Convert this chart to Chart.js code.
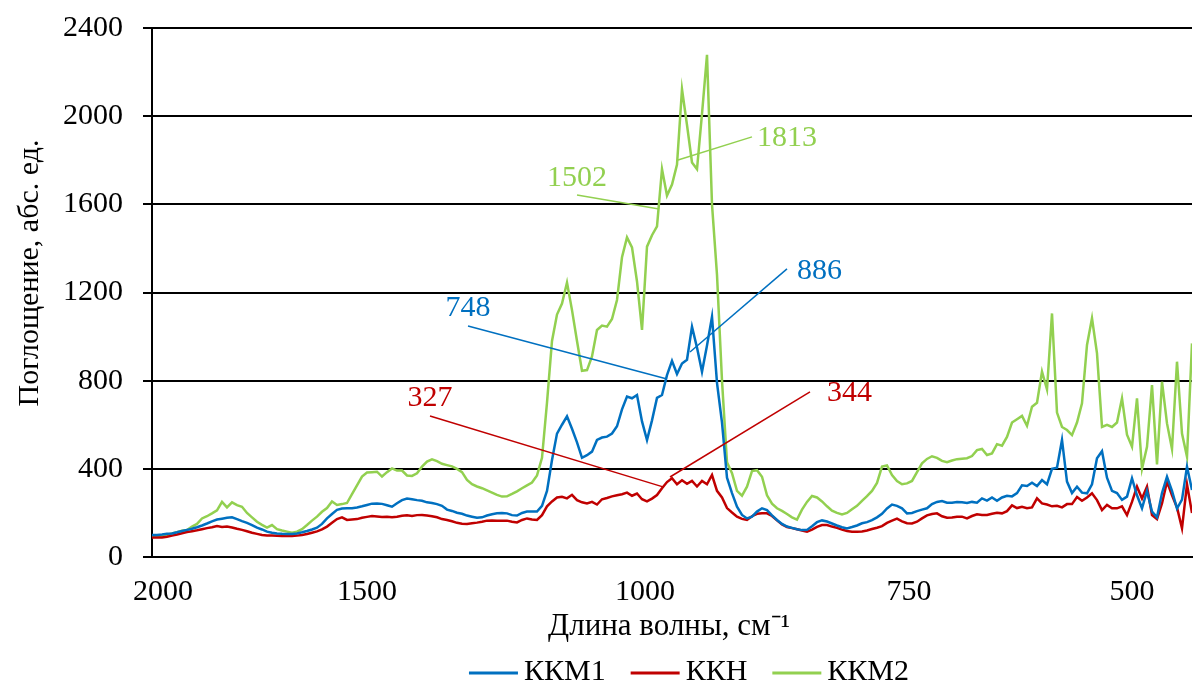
<!DOCTYPE html>
<html lang="ru">
<head>
<meta charset="utf-8">
<title>Спектры поглощения</title>
<script src="https://cdn.jsdelivr.net/npm/chart.js@4.4.1/dist/chart.umd.min.js"></script>
<style>
  html, body { margin: 0; padding: 0; background: #fff; }
  #wrap { width: 1193px; height: 687px; position: relative; }
</style>
</head>
<body>
<div id="wrap"><canvas id="spectra"></canvas></div>
<script>
// Spectra, one sample every 5 px along the x axis
const kkm1 = [
    100, 100, 102, 105, 107, 112, 118, 123, 128, 135,
    143, 152, 162, 170, 174, 178, 180, 172, 163, 155,
    145, 133, 125, 115, 110, 107, 105, 104, 104, 107,
    112, 118, 125, 133, 150, 175, 195, 214, 220, 221,
    221, 225, 230, 236, 242, 243, 241, 235, 228, 244,
    258, 265, 262, 258, 255, 248, 245, 240, 232, 215,
    209, 201, 196, 188, 183, 178, 180, 188, 194, 198,
    200, 198, 190, 188, 200, 206, 206, 206, 232, 300,
    440, 560, 600, 638, 582, 520, 450, 462, 478, 531,
    542, 546, 560, 593, 670, 728, 720, 735, 615, 531,
    620, 722, 735, 825, 890, 830, 878, 895, 1045, 950,
    840, 960, 1090, 790, 610, 360, 290, 228, 191, 175,
    183, 206, 221, 213, 189, 168, 150, 138, 132, 126,
    122, 123, 140, 158, 166, 161, 152, 143, 135, 130,
    136, 143, 153, 158, 167, 180, 196, 220, 238, 232,
    221, 198, 200, 208, 215, 221, 240, 250, 254, 246,
    246, 249, 248, 245, 250, 246, 266, 256, 270, 255,
    270, 278, 275, 290, 325, 322, 337, 322, 349, 330,
    400, 405, 531, 342, 290, 319, 292, 289, 330, 448,
    480, 360, 300, 290, 259, 274, 357, 280, 221, 300,
    206, 180, 290, 364, 300, 220, 260, 410, 304
];
const kkn = [
    88, 88, 89, 92, 97, 102, 108, 113, 117, 121,
    126, 131, 135, 140, 136, 138, 134, 128, 123, 117,
    110, 105, 100, 98, 97, 96, 95, 95, 95, 97,
    100, 104, 110, 116, 125, 138, 155, 172, 180, 168,
    170, 172, 178, 182, 186, 184, 182, 183, 180, 183,
    187, 189, 186, 190, 191, 188, 185, 180, 172, 168,
    162, 155, 151, 150, 153, 156, 160, 165, 166, 165,
    165, 165, 160, 157, 168, 175, 170, 168, 190, 230,
    252, 270, 273, 266, 282, 258, 248, 243, 250, 238,
    262, 268, 275, 280, 285, 292, 278, 288, 262, 252,
    265, 281, 312, 340, 357, 330, 348, 332, 345, 320,
    345, 330, 372, 300, 270, 222, 202, 183, 173, 168,
    185, 196, 198, 198, 186, 166, 148, 136, 131, 126,
    120, 115, 124, 137, 145, 145, 138, 132, 124, 118,
    115, 115, 116, 120, 127, 133, 140, 155, 165, 174,
    162, 153, 152, 160, 175, 189, 195, 198, 185, 178,
    179, 183, 183, 175, 186, 194, 191, 191, 196, 201,
    198, 208, 234, 222, 228, 221, 225, 266, 243, 238,
    230, 232, 225, 240, 240, 272, 255, 270, 289, 258,
    213, 236, 221, 221, 230, 190, 250, 319, 265, 319,
    190, 172, 243, 342, 280, 225, 130, 330, 200
];
const kkm2 = [
    92, 94, 96, 101, 107, 113, 119, 122, 138, 150,
    175, 185, 198, 212, 250, 225, 248, 235, 228, 200,
    180, 160, 146, 133, 145, 126, 120, 115, 110, 115,
    126, 145, 165, 183, 205, 222, 252, 236, 240, 245,
    285, 325, 365, 383, 385, 387, 365, 385, 402, 392,
    392, 370, 368, 380, 410, 433, 443, 435, 423, 417,
    411, 400, 385, 350, 330, 320, 312, 302, 292, 282,
    274, 275, 286, 298, 312, 325, 338, 370, 450, 700,
    980, 1100, 1150, 1245, 1120, 980, 845, 848, 910, 1030,
    1050, 1045, 1080, 1166, 1360, 1450, 1405, 1250, 1030, 1408,
    1460, 1500, 1760, 1640, 1690, 1780, 2122, 1960, 1790, 1760,
    2010, 2278, 1600, 1280, 800, 430, 380, 300, 278, 319,
    390, 394, 364, 280, 242, 221, 209, 195, 180, 170,
    215, 250, 277, 270, 252, 230, 210, 200, 193, 200,
    217, 232, 255, 276, 300, 336, 410, 415, 372, 345,
    330, 334, 345, 385, 425, 445, 457, 450, 436, 430,
    438, 444, 446, 448, 458, 485, 490, 463, 470, 512,
    505, 545, 610, 625, 640, 595, 682, 700, 841, 760,
    1105, 655, 590, 576, 553, 610, 697, 962, 1083, 924,
    590, 600, 590, 610, 720, 555, 500, 720, 400, 500,
    780, 420, 795, 606, 490, 886, 560, 455, 969
];

const seriesNames = ['ККМ1', 'ККН', 'ККМ2'];
const seriesColors = ['#0070C0', '#C00000', '#92D050'];

// x axis: wavenumber labels and the sample positions they sit at
const tickLabels = ['2000', '1500', '1000', '750', '500'];
const tickPos = [2.2, 43, 98.6, 151.4, 196];

// Callout labels: [sample, value] for the line start, line end and text
const notes = [
    { text: '1813', series: 2, at: [105.2, 1801], end: [120, 1906], textAt: [121, 1901], align: 'left' },
    { text: '1502', series: 2, at: [101.4, 1579], end: [85, 1642], textAt: [85, 1720], align: 'center' },
    { text: '886', series: 0, at: [107.6, 930], end: [127, 1307], textAt: [129, 1298], align: 'left' },
    { text: '748', series: 0, at: [103, 808], end: [63.2, 1048], textAt: [63.2, 1130], align: 'center' },
    { text: '327', series: 1, at: [102.2, 318], end: [55.6, 640], textAt: [55.6, 721], align: 'center' },
    { text: '344', series: 1, at: [103.6, 363], end: [131.6, 749], textAt: [135, 744], align: 'left' }
];

const FONT = '"Liberation Serif", "Times New Roman", serif';

function toPoints(values) {
    return values.map(function(v, i) { return { x: i, y: v }; });
}

// Callouts, axis titles and legend
const extras = {
    id: 'extras',
    afterDatasetsDraw(chart) {
        const ctx = chart.ctx;
        const x = chart.scales.x;
        const y = chart.scales.y;
        ctx.save();
        ctx.font = '30px ' + FONT;
        ctx.textBaseline = 'middle';
        notes.forEach(function(n) {
            const col = seriesColors[n.series];
            ctx.strokeStyle = col;
            ctx.lineWidth = 1.5;
            ctx.beginPath();
            ctx.moveTo(x.getPixelForValue(n.at[0]), y.getPixelForValue(n.at[1]));
            ctx.lineTo(x.getPixelForValue(n.end[0]), y.getPixelForValue(n.end[1]));
            ctx.stroke();
            ctx.fillStyle = col;
            ctx.textAlign = n.align;
            ctx.fillText(n.text, x.getPixelForValue(n.textAt[0]), y.getPixelForValue(n.textAt[1]));
        });
        ctx.restore();
    },
    afterDraw(chart) {
        const ctx = chart.ctx;
        const area = chart.chartArea;
        ctx.save();
        ctx.fillStyle = '#000';
        ctx.font = '30px ' + FONT;
        ctx.textBaseline = 'middle';

        // y title
        ctx.save();
        ctx.translate(30, 273);
        ctx.rotate(-Math.PI / 2);
        ctx.textAlign = 'center';
        ctx.fillText('Поглощение, абс. ед.', 0, 0);
        ctx.restore();

        // x title
        ctx.font = '31px ' + FONT;
        ctx.textAlign = 'center';
        ctx.fillText('Длина волны, см⁻¹', (area.left + area.right) / 2 - 3, 627);

        // legend
        ctx.font = '30px ' + FONT;
        const lineLen = 49, gapText = 6, gapItem = 25;
        let total = 0;
        seriesNames.forEach(function(name, i) {
            total += lineLen + gapText + ctx.measureText(name).width + (i < seriesNames.length - 1 ? gapItem : 0);
        });
        let cx = 689 - total / 2;
        const ly = 672;
        ctx.textAlign = 'left';
        seriesNames.forEach(function(name, i) {
            ctx.strokeStyle = seriesColors[i];
            ctx.lineWidth = 3;
            ctx.beginPath();
            ctx.moveTo(cx, ly + 1);
            ctx.lineTo(cx + lineLen, ly + 1);
            ctx.stroke();
            cx += lineLen + gapText;
            ctx.fillText(name, cx, ly);
            cx += ctx.measureText(name).width + gapItem;
        });
        ctx.restore();
    }
};

const datasets = [kkm1, kkn, kkm2].map(function(values, i) {
    return {
        label: seriesNames[i],
        data: toPoints(values),
        borderColor: seriesColors[i],
        backgroundColor: seriesColors[i],
        borderWidth: 2.5,
        pointRadius: 0,
        tension: 0,
        fill: false
    };
});

new Chart(document.getElementById('spectra'), {
    type: 'line',
    data: { datasets: datasets },
    options: {
        responsive: true,
        maintainAspectRatio: false,
        animation: false,
        layout: { padding: { top: 28, right: 1, left: 0, bottom: 0 } },
        plugins: {
            legend: { display: false },
            tooltip: { enabled: false }
        },
        scales: {
            x: {
                type: 'linear',
                min: 0,
                max: kkm1.length - 1,
                afterFit: function(scale) {
                    scale.height = 130;
                    scale.paddingLeft = 0;
                    scale.paddingRight = 0;
                },
                afterBuildTicks: function(scale) {
                    scale.ticks = tickPos.map(function(v) { return { value: v }; });
                },
                ticks: {
                    autoSkip: false,
                    maxRotation: 0,
                    padding: 9,
                    color: '#000',
                    font: { family: FONT, size: 30 },
                    callback: function(value, index) { return tickLabels[index]; }
                },
                grid: { display: false },
                border: { display: true, color: '#000', width: 2 }
            },
            y: {
                min: 0,
                max: 2400,
                afterFit: function(scale) {
                    scale.width = 152;
                    scale.paddingTop = 0;
                    scale.paddingBottom = 0;
                },
                ticks: {
                    stepSize: 400,
                    padding: 20,
                    color: '#000',
                    font: { family: FONT, size: 30 },
                    callback: function(value) { return String(value); }
                },
                grid: { color: '#000', lineWidth: 2, tickLength: 9, tickColor: '#000' },
                border: { display: true, color: '#000', width: 2 }
            }
        }
    },
    plugins: [extras]
});
</script>
</body>
</html>
